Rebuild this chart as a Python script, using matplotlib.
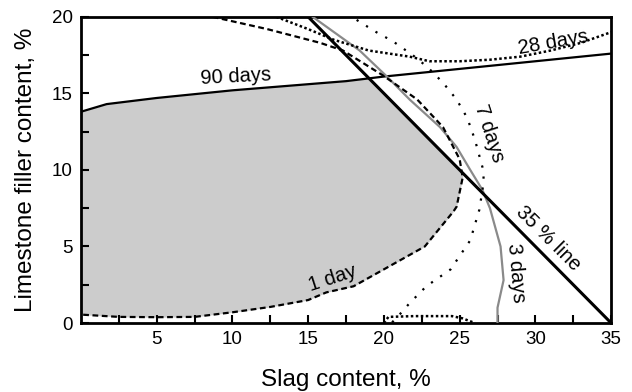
import numpy as np
import matplotlib
matplotlib.use("Agg")
import matplotlib.pyplot as plt

plt.rcParams['font.family'] = ['Liberation Sans', 'DejaVu Sans']

# ---- data (slag %, limestone filler %) ----
d90_x = [0, 1.7, 5, 10, 15, 17.5, 20, 25, 30, 35]
d90_y = [13.8, 14.3, 14.7, 15.2, 15.6, 15.8, 16.1, 16.6, 17.1, 17.6]

line35_x = [15, 35]
line35_y = [20, 0]

d1_x = [8.7, 12.3, 15.8, 17.3, 19.9, 22.2, 23.9, 25.0, 25.2, 24.8, 24.6, 22.7,
        18.0, 16.2, 15, 12.5, 10, 7.5, 5, 2.5, 0]
d1_y = [20, 19.2, 18.3, 17.8, 16.2, 14.6, 12.8, 10.7, 9.5, 7.6, 7.3, 5.0,
        2.4, 2.0, 1.5, 1.05, 0.7, 0.4, 0.38, 0.4, 0.55]

d3_x = [15.3, 18.4, 20.2, 21.7, 23.7, 24.8, 25.7, 26.5, 27.0, 27.7, 27.9, 27.5, 27.5]
d3_y = [20, 17.8, 16.1, 14.6, 12.8, 11.5, 10.0, 8.7, 7.5, 5.0, 2.8, 1.0, 0]

d7_x = [18.2, 19.5, 20.6, 21.9, 22.9, 23.9, 24.8, 25.5, 26.0, 26.5, 26.6, 26.3,
        25.7, 24.4, 22.8, 21.7, 20.9, 20.5]
d7_y = [19.8, 19.0, 18.4, 17.5, 16.7, 15.7, 14.6, 13.4, 12.0, 10.2, 9.3, 7.4,
        5.4, 3.5, 2.4, 1.3, 0.4, 0]

d28_x = [12.9, 15, 16.7, 19, 21.7, 23, 25, 27, 29, 31, 33, 35]
d28_y = [20, 19.2, 18.5, 17.8, 17.4, 17.1, 17.1, 17.2, 17.4, 17.8, 18.3, 19.0]

d28b_x = [20.0, 20.3, 22, 24.5, 25.2, 26.0]
d28b_y = [0.0, 0.4, 0.45, 0.45, 0.3, 0.0]

x_ticks = [5, 10, 15, 20, 25, 30, 35]
y_ticks = [0, 5, 10, 15, 20]

fig = plt.figure(figsize=(6.32, 3.92), dpi=100)
ax = fig.add_axes([0.128, 0.176, 0.839, 0.781])

# shaded region: under 90 days & 35 % line, above 1 day lower branch
i_max = int(np.argmax(d1_x))
low_x = np.array(d1_x[i_max:])[::-1]
low_y = np.array(d1_y[i_max:])[::-1]
xs = np.linspace(0, low_x[-1], 800)
order = np.argsort(line35_x)
l35 = np.interp(xs, np.array(line35_x)[order], np.array(line35_y)[order])
upper = np.minimum(np.interp(xs, d90_x, d90_y), l35)
lower = np.interp(xs, low_x, low_y)
ax.fill_between(xs, lower, upper, where=upper >= lower, color='#cccccc', lw=0, zorder=1)

ax.plot(d90_x, d90_y, color='black', lw=1.6, zorder=3)
ax.plot(line35_x, line35_y, color='black', lw=2.2, zorder=4)
ax.plot(d3_x, d3_y, color='#8a8a8a', lw=1.6, zorder=3)
ax.plot(d1_x, d1_y, color='black', lw=1.6, ls=(0, (2.6, 1.6)), zorder=3)
ax.plot(d7_x, d7_y, color='black', lw=1.6, ls=(0, (1, 4.0)), zorder=3)
ax.plot(d28_x, d28_y, color='black', lw=1.8, ls=(0, (1, 1)), zorder=3)
ax.plot(d28b_x, d28b_y, color='black', lw=1.8, ls=(0, (1, 1)), zorder=3)

fs = 14.5
ax.text(10.2, 16.1, '90 days', fontsize=fs, rotation=3, ha='center', va='center', rotation_mode='anchor')
ax.text(31.2, 18.3, '28 days', fontsize=fs, rotation=10, ha='center', va='center', rotation_mode='anchor')
ax.text(26.95, 12.4, '7 days', fontsize=fs, rotation=-72, ha='center', va='center', rotation_mode='anchor')
ax.text(28.75, 3.3, '3 days', fontsize=fs, rotation=-85, ha='center', va='center', rotation_mode='anchor')
ax.text(30.85, 5.55, '35 % line', fontsize=fs, rotation=-45, ha='center', va='center', rotation_mode='anchor')
ax.text(16.6, 2.9, '1 day', fontsize=fs, rotation=18, ha='center', va='center', rotation_mode='anchor')

ax.set_xlim(0, 35)
ax.set_ylim(0, 20)
ax.set_xticks(x_ticks)
ax.set_yticks(y_ticks)
ax.set_xticks(np.arange(2.5, 35, 5), minor=True)
ax.set_yticks(np.arange(2.5, 20, 5), minor=True)
ax.tick_params(which='both', direction='in', length=6, width=1.5, labelsize=13.5, pad=6)
for s in ax.spines.values():
    s.set_linewidth(2)

ax.set_xlabel('Slag content, %', fontsize=17.5)
ax.set_ylabel('Limestone filler content, %', fontsize=17.5)
ax.xaxis.set_label_coords(0.5, -0.15)
ax.yaxis.set_label_coords(-0.083, 0.5)

fig.savefig('out.png', dpi=100)
